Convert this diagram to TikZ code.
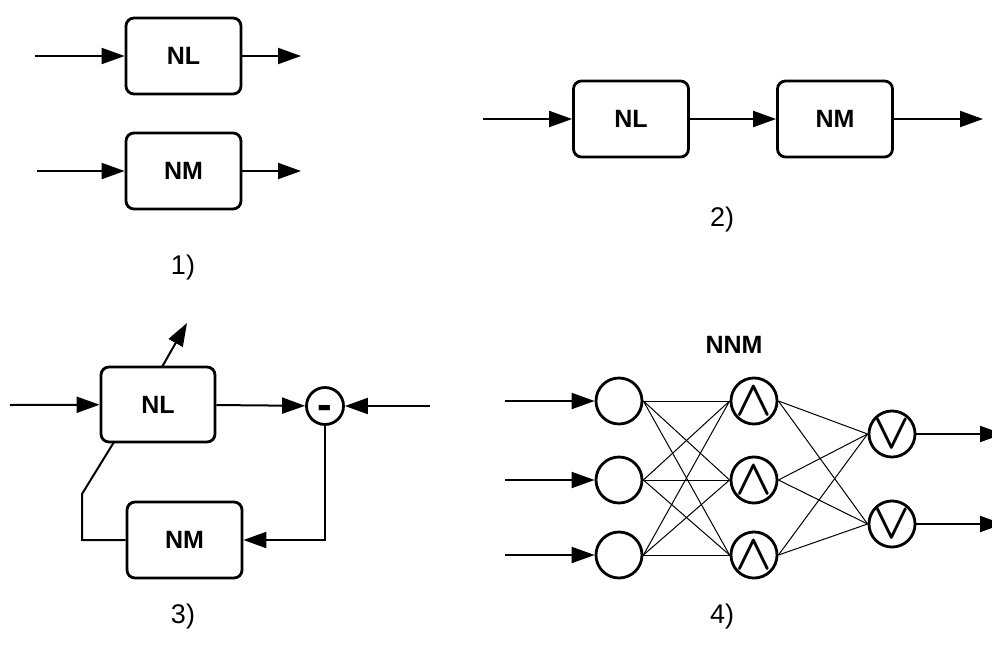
\RequirePackage{fix-cm}
\documentclass[tikz,border=0pt]{standalone}
\usepackage{fontspec}
\usepackage{graphicx}
\setmainfont{Liberation Sans}
\usetikzlibrary{arrows.meta}
\newcommand{\andsym}{\scalebox{1.33}[1.4]{\fontsize{36}{40}\selectfont\boldmath$\wedge$}}
\newcommand{\orsym}{\scalebox{1.33}[1.4]{\fontsize{36}{40}\selectfont\boldmath$\vee$}}
\begin{document}
\begin{tikzpicture}[x=1pt,y=-1pt,
  box/.style={draw, line width=2.8pt, rounded corners=8pt, minimum width=115pt,
    minimum height=76pt, inner sep=0pt, font=\fontsize{25}{30}\selectfont\bfseries},
  conn/.style={line width=2pt, -{Triangle[length=23pt,width=16pt]}},
  wire/.style={line width=2pt},
  thin/.style={line width=1pt},
  neuron/.style={draw, circle, line width=2.8pt, minimum size=46pt, inner sep=0pt},
  lbl/.style={font=\fontsize{27}{32}\selectfont}
]
\useasboundingbox (0,0) rectangle (992,659);

% ---------- Panel 1 ----------
\node[box] (nl1) at (183.5,56) {NL};
\node[box] (nm1) at (183.5,171) {NM};
\coordinate (a1) at (35,56);  \coordinate (b1) at (301,56);
\coordinate (a2) at (37,171); \coordinate (b2) at (301,171);
\draw[conn] (a1) -- (nl1);
\draw[conn] (nl1) -- (b1);
\draw[conn] (a2) -- (nm1);
\draw[conn] (nm1) -- (b2);
\node[lbl] (l1) at (183,268) {1)};

% ---------- Panel 2 ----------
\node[box] (nl2) at (631,119) {NL};
\node[box] (nm2) at (835,119) {NM};
\coordinate (a3) at (483,119); \coordinate (b3) at (983,119);
\draw[conn] (a3) -- (nl2);
\draw[conn] (nl2) -- (nm2);
\draw[conn] (nm2) -- (b3);
\node[lbl] (l2) at (722,220) {2)};

% ---------- Panel 3 ----------
\node[box, minimum width=114pt, minimum height=75pt] (nl3) at (158,404.5) {NL};
\node[box] (nm3) at (184.5,540) {NM};
\node[draw, circle, line width=2.8pt, minimum size=37pt, inner sep=0pt,
      text height=26.5pt, text depth=0pt,
      font=\fontsize{44}{48}\selectfont\bfseries] (sub) at (325,406) {-};
\coordinate (a4) at (10,405);
\coordinate (b4) at (430,406);
\coordinate (k1) at (82,540);
\coordinate (k2) at (82,494);
\coordinate (k3) at (114,442);
\coordinate (t0) at (162,367);
\coordinate (t1) at (187,323);
\draw[conn] (a4) -- (nl3);
\draw[conn] (nl3) -- (sub);
\draw[conn] (b4) -- (sub);
\draw[conn] (sub.south) |- (nm3.east);
\draw[wire] (nm3.west) -- (k1) -- (k2) -- (k3);
\draw[conn] (t0) -- (t1);
\node[lbl] (l3) at (183,617) {3)};

% ---------- Panel 4 ----------
\node[font=\fontsize{25}{30}\selectfont\bfseries] (nnm) at (734,345) {NNM};
\node[neuron] (i1) at (619,401) {};
\node[neuron] (i2) at (619,480) {};
\node[neuron] (i3) at (619,555) {};
\node[neuron] (h1) at (754,401) {\andsym};
\node[neuron] (h2) at (754,480) {\andsym};
\node[neuron] (h3) at (754,555) {\andsym};
\node[neuron] (o1) at (892,434) {\orsym};
\node[neuron] (o2) at (892,524) {\orsym};
\coordinate (c1) at (505,401);
\coordinate (c2) at (505,480);
\coordinate (c3) at (505,555);
\coordinate (d1) at (1003,434);
\coordinate (d2) at (1003,524);
\draw[conn] (c1) -- (i1);
\draw[conn] (c2) -- (i2);
\draw[conn] (c3) -- (i3);
\foreach \i in {i1,i2,i3}{
  \foreach \h in {h1,h2,h3}{
    \draw[thin] (\i.east) -- (\h.west);
  }
}
\foreach \h in {h1,h2,h3}{
  \foreach \o in {o1,o2}{
    \draw[thin] (\h.east) -- (\o.west);
  }
}
\draw[conn] (o1) -- (d1);
\draw[conn] (o2) -- (d2);
\node[lbl] (l4) at (722,617) {4)};
\end{tikzpicture}
\end{document}
